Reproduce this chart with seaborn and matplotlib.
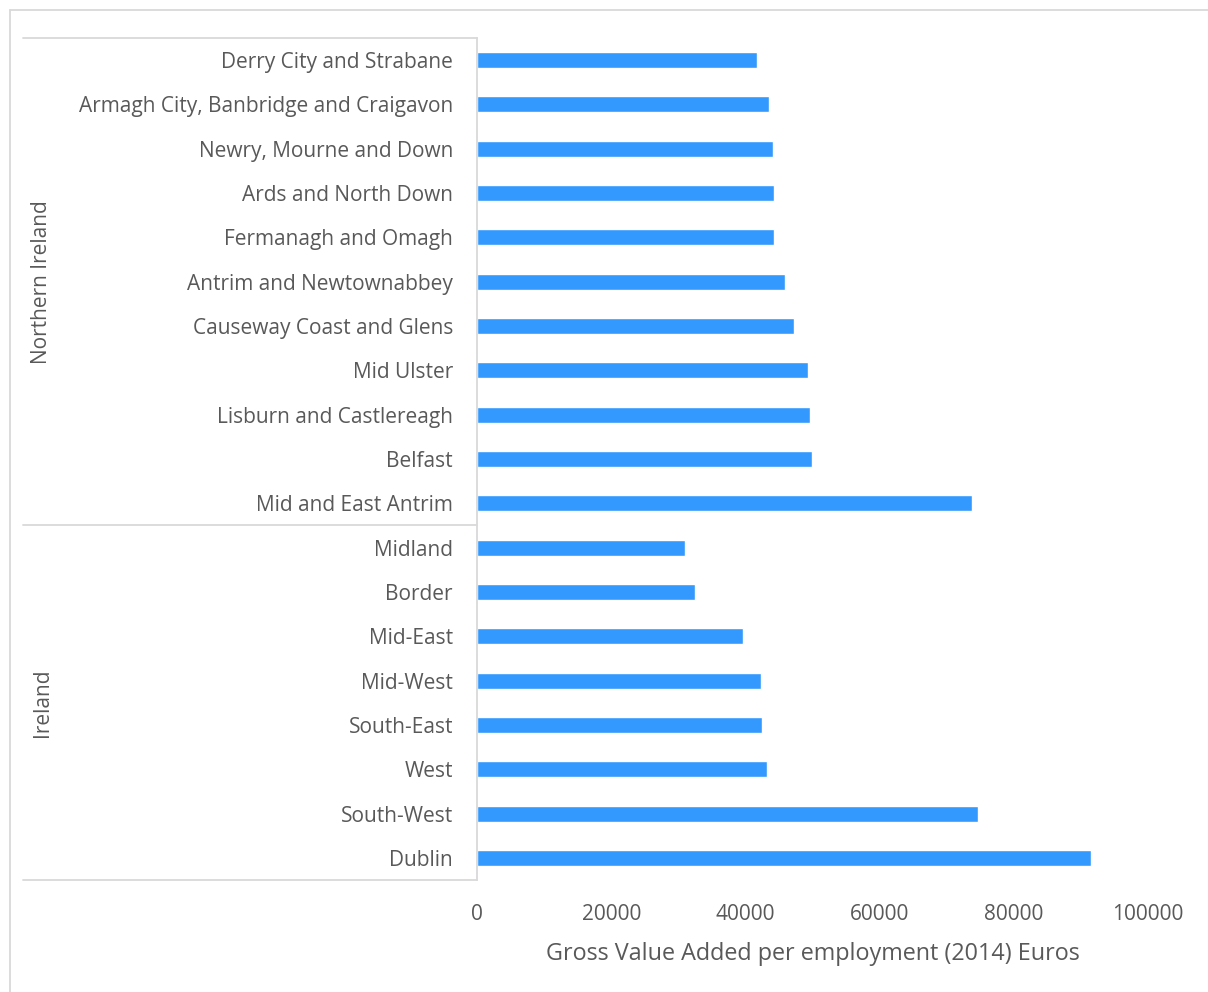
import matplotlib
matplotlib.use("Agg")
import matplotlib.pyplot as plt
import matplotlib.transforms as mtransforms
import seaborn as sns
import pandas as pd

# Gross value added per employment, 2014 (euros)
ni_regions = [
    "Derry City and Strabane",
    "Armagh City, Banbridge and Craigavon",
    "Newry, Mourne and Down",
    "Ards and North Down",
    "Fermanagh and Omagh",
    "Antrim and Newtownabbey",
    "Causeway Coast and Glens",
    "Mid Ulster",
    "Lisburn and Castlereagh",
    "Belfast",
    "Mid and East Antrim",
]
ni_values = [41700, 43500, 44100, 44250, 44250, 45900, 47200, 49300, 49600, 49900, 73700]

ie_regions = ["Midland", "Border", "Mid-East", "Mid-West", "South-East", "West", "South-West", "Dublin"]
ie_values = [31000, 32450, 39600, 42300, 42450, 43200, 74600, 91450]

groups = ["Northern Ireland", "Ireland"]
x_ticks = [0, 20000, 40000, 60000, 80000, 100000]
x_label = "Gross Value Added per employment (2014) Euros"

df = pd.DataFrame({
    "region": ni_regions + ie_regions,
    "gva": ni_values + ie_values,
    "group": [groups[0]] * len(ni_regions) + [groups[1]] * len(ie_regions),
})

sns.set_theme(style="white")
plt.rcParams["font.family"] = ["Open Sans", "DejaVu Sans"]

TEXT = "#595959"
LINE = "#D9D9D9"
BAR = "#3399FF"
FS = 15

fig = plt.figure(figsize=(12.08, 9.92), dpi=100)
ax = fig.add_axes([477 / 1208, 1 - 880 / 992, (1148 - 477) / 1208, (880 - 38) / 992])

sns.barplot(data=df, x="gva", y="region", color=BAR, width=0.36,
            saturation=1, orient="h", ax=ax)

ax.set_xlim(0, 100000)
ax.set_ylim(len(df) - 0.5, -0.5)
ax.set_xticks(x_ticks)
ax.set_xticklabels([str(t) for t in x_ticks])
ax.tick_params(axis="x", length=0, pad=17.5, labelsize=FS, labelcolor=TEXT)
ax.tick_params(axis="y", length=0, pad=17.3, labelsize=FS, labelcolor=TEXT)
ax.set_ylabel("")
ax.set_xlabel(x_label, fontsize=16.8, color=TEXT, labelpad=12)

for side in ["top", "right", "bottom"]:
    ax.spines[side].set_visible(False)
ax.spines["left"].set_color(LINE)
ax.spines["left"].set_linewidth(1.3)

# Multi-level category axis: group brackets and labels
x_left = (23 - 477) / (1148 - 477)
blend = mtransforms.blended_transform_factory(ax.transAxes, ax.transData)
n_ni = len(ni_regions)
n_all = len(df)
for yv in [-0.5, n_ni - 0.5, n_all - 0.5]:
    ax.plot([x_left, 0], [yv, yv], color=LINE, lw=1.3, transform=blend, clip_on=False)

x_grp = (42 - 477) / (1148 - 477)
ax.text(x_grp, (n_ni - 1) / 2, groups[0], rotation=90, ha="center", va="center",
        fontsize=FS, color=TEXT, transform=blend)
ax.text(x_grp, n_ni + (len(ie_regions) - 1) / 2, groups[1], rotation=90, ha="center",
        va="center", fontsize=FS, color=TEXT, transform=blend)

# Chart area border
fig.add_artist(plt.Line2D([10 / 1208, 1], [1 - 10 / 992] * 2, color=LINE, lw=1.3,
                          transform=fig.transFigure))
fig.add_artist(plt.Line2D([10 / 1208] * 2, [0, 1 - 10 / 992], color=LINE, lw=1.3,
                          transform=fig.transFigure))

fig.savefig("out.png", dpi=100, facecolor="white")
